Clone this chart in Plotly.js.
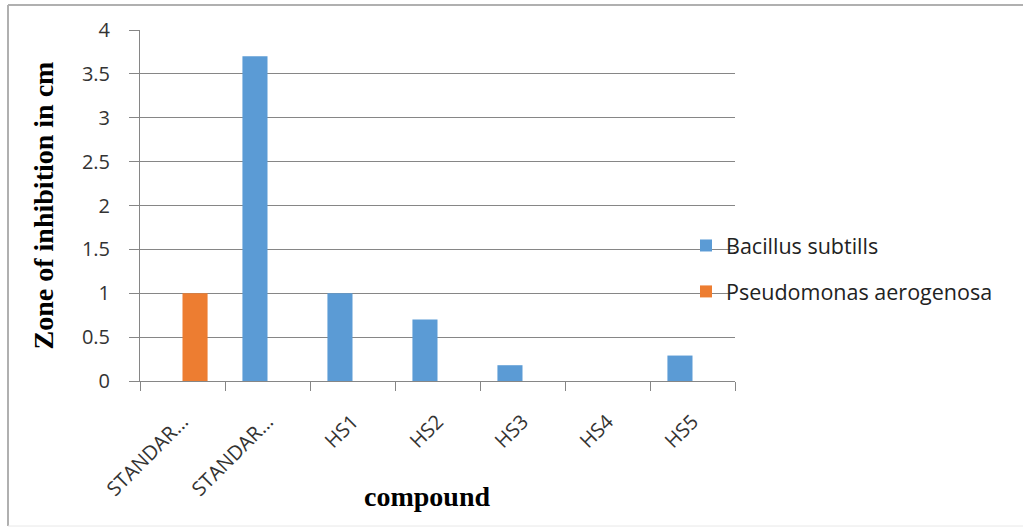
<!DOCTYPE html>
<html>
<head>
<meta charset="utf-8">
<script src="https://cdn.plot.ly/plotly-3.0.1.min.js"></script>
<style>html,body{margin:0;padding:0;background:#fff;}#chart{width:1023px;height:527px;}</style>
</head>
<body>
<div id="chart"></div>
<script>
var categoryIndex = [0, 1, 2, 3, 4, 5, 6];
var tickLabels = ["STANDAR...", "STANDAR...", "HS1", "HS2", "HS3", "HS4", "HS5"];
var bacillus = [0, 3.7, 1.0, 0.7, 0.18, 0, 0.29];
var pseudomonas = [1.0, 0, 0, 0, 0, 0, 0];
var yTicks = [0, 0.5, 1, 1.5, 2, 2.5, 3, 3.5, 4];
var yTickLabels = ["0", "0.5", "1", "1.5", "2", "2.5", "3", "3.5", "4"];

var tickFont = {family: "Open Sans, Liberation Sans, sans-serif", size: 20, color: "#333"};
var titleFont = {family: "Liberation Serif, Times New Roman, serif", size: 28, color: "#000", weight: "bold"};

var W = 1023, H = 527, L = 140, R = 288, T = 30, B = 146;
var pw = W - L - R, ph = H - T - B;
function px(x){ return (x - L) / pw; }
function py(y){ return (H - B - y) / ph; }

var traces = [
  {type: "bar", name: "Bacillus subtills", x: categoryIndex, y: bacillus,
   marker: {color: "#5b9bd5"}, legendgroup: "a"},
  {type: "bar", name: "Pseudomonas aerogenosa", x: categoryIndex, y: pseudomonas,
   marker: {color: "#ed7d31"}, legendgroup: "b"}
];

var layout = {
  width: W, height: H,
  margin: {l: L, r: R, t: T, b: B},
  paper_bgcolor: "#fff", plot_bgcolor: "#fff",
  barmode: "group", bargap: 0.41, bargroupgap: 0,
  showlegend: true,
  legend: {x: px(686), y: py(268.5), xanchor: "left", yanchor: "middle",
           font: {family: "Open Sans, Liberation Sans, sans-serif", size: 21.5, color: "#222"},
           tracegroupgap: 15, bgcolor: "rgba(0,0,0,0)"},
  xaxis: {
    type: "category",
    tickvals: categoryIndex, ticktext: tickLabels,
    tickangle: -45, tickfont: tickFont,
    tickson: "boundaries", ticks: "outside", ticklen: 9, tickcolor: "#868686",
    ticklabelstandoff: 20,
    showline: true, linecolor: "#868686", linewidth: 1,
    showgrid: false, zeroline: false
  },
  yaxis: {
    range: [0, 4],
    tickvals: yTicks, ticktext: yTickLabels, tickfont: tickFont,
    ticks: "outside", ticklen: 10, tickcolor: "#868686",
    ticklabelstandoff: 15,
    showline: true, linecolor: "#868686", linewidth: 1,
    showgrid: true, gridcolor: "#868686", gridwidth: 1,
    zeroline: false,
    title: {text: "Zone of inhibition in cm", font: titleFont, standoff: 20}
  },
  annotations: [
    {text: "compound", xref: "paper", yref: "paper", x: px(426.5), y: py(497),
     xanchor: "center", yanchor: "middle", showarrow: false, font: titleFont}
  ],
  shapes: [
    {type: "line", xref: "paper", yref: "paper", x0: px(8), x1: px(1023), y0: py(5), y1: py(5), line: {color: "#b0b0b0", width: 2}},
    {type: "line", xref: "paper", yref: "paper", x0: px(8), x1: px(8), y0: py(5), y1: py(526), line: {color: "#b0b0b0", width: 2}},
    {type: "line", xref: "paper", yref: "paper", x0: px(8), x1: px(1023), y0: py(526), y1: py(526), line: {color: "#e8e8e8", width: 1}}
  ]
};

Plotly.newPlot("chart", traces, layout, {displayModeBar: false, staticPlot: true});
</script>
</body>
</html>
